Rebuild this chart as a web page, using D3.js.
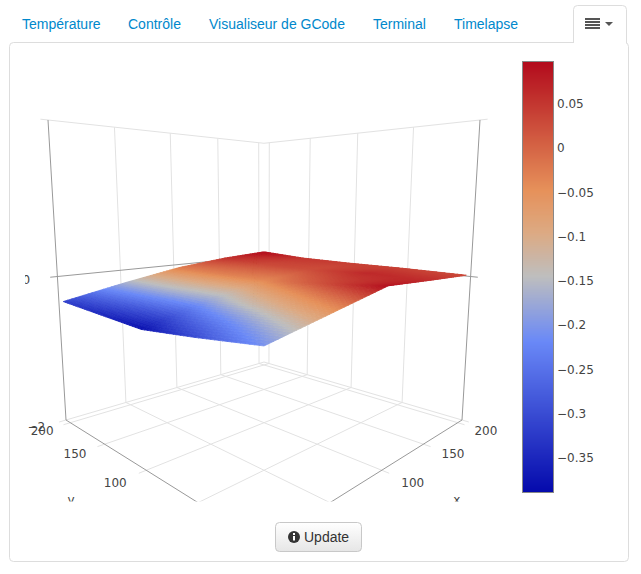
<!DOCTYPE html>
<html>
<head>
<meta charset="utf-8">
<script src="https://cdnjs.cloudflare.com/ajax/libs/d3/7.8.5/d3.min.js"></script>
<style>
  html, body { margin: 0; padding: 0; background: #fff; }
  svg { display: block; }
  .tab { font: 14px "Liberation Sans", Arial, sans-serif; fill: #0088cc; }
  .tick { font: 12px "DejaVu Sans", sans-serif; fill: #444; }
</style>
</head>
<body>
<svg id="chart" width="641" height="574"></svg>
<script>
// Bed mesh
const xs = [0, 50, 100, 150, 200];
const ys = [0, 50, 100, 150, 200];
const zRows = [
    [-0.205, -0.055, 0.095, 0.06, 0.03],
    [-0.30, -0.12, 0.02, 0.065, 0.04],
    [-0.38, -0.18, -0.04, 0.025, 0.04],
    [-0.35, -0.17, -0.03, 0.03, 0.05],
    [-0.32, -0.165, -0.03, 0.05, 0.095]
];

const xTicks = [50, 100, 150, 200];
const yTicks = [50, 100, 150, 200];
const zTicks = [-2, 0, 2];
const xLabels = [100, 150, 200];
const yLabels = [100, 150, 200];
const zLabels = [-2, 0];
const barTicks = [0.05, 0, -0.05, -0.1, -0.15, -0.2, -0.25, -0.3, -0.35];
const tabNames = ["Température", "Contrôle", "Visualiseur de GCode", "Terminal", "Timelapse"];
const tabLefts = [22, 128, 209, 373, 454];

const colorStops = [0, 0.35, 0.5, 0.6, 0.7, 1];
const colorValues = ["rgb(5,10,172)", "rgb(106,137,247)", "rgb(190,190,190)", "rgb(220,170,132)", "rgb(230,145,90)", "rgb(178,10,28)"];

const zMin = -0.388, zMax = 0.0986;
const gridColor = "#e2e2e2", axisColor = "#999";

const svg = d3.select("#chart");

// Scales into the unit scene box
const xScale = d3.scaleLinear().domain([0, 207]).range([-1, 1]);
const yScale = d3.scaleLinear().domain([0, 207]).range([-1, 1]);
const zScale = d3.scaleLinear().domain([-2, 2]).range([0, 1]);
const colorFrac = d3.scaleLinear().domain([zMin, zMax]).range([0, 1]).clamp(true);
const colorRamp = d3.scaleLinear().domain(colorStops).range(colorValues).interpolate(d3.interpolateRgb);
const color = v => colorRamp(colorFrac(v));

// Perspective of the scene, X,Y in -1..1 and Z in 0..1
function project(X, Y, Z) {
    const p = (X - Y) / 2, s = (X + Y) / 2;
    const w = 1 + 0.3626 * s - 0.0833 * Z;
    return [264 + 198 * p / w, (420 + 73.3 * s - 310 * Z) / w];
}
const line3 = d3.line();
function seg(a, b) {
    return line3([project(...a), project(...b)]);
}

// Tab bar and pane
svg.append("rect").attr("x", 9.5).attr("y", 42.5).attr("width", 619).attr("height", 519)
    .attr("rx", 4).attr("fill", "#fff").attr("stroke", "#ddd");
svg.append("path").attr("d", "M573.5 43V9.5a4 4 0 0 1 4-4h45a4 4 0 0 1 4 4V43")
    .attr("fill", "#fff").attr("stroke", "#ddd");
svg.append("rect").attr("x", 574).attr("y", 41).attr("width", 52).attr("height", 3).attr("fill", "#fff");
svg.selectAll("text.tab").data(tabNames).join("text")
    .attr("class", "tab").attr("x", (d, i) => tabLefts[i]).attr("y", 29).text(d => d);
svg.append("g").selectAll("rect").data([0, 1, 2, 3]).join("rect")
    .attr("x", 585).attr("y", d => 18 + d * 3).attr("width", 15).attr("height", 2).attr("fill", "#555");
svg.append("path").attr("d", "M605 22h8l-4 4z").attr("fill", "#555");

// Plot area cuts off the front of the scene
svg.append("clipPath").attr("id", "plot").append("rect")
    .attr("x", 25).attr("y", 60).attr("width", 495).attr("height", 441.5);
const scene = svg.append("g").attr("clip-path", "url(#plot)").attr("fill", "none");

const grid = scene.append("g").attr("stroke", gridColor);
xTicks.forEach(t => {
    const X = xScale(t);
    grid.append("path").attr("d", seg([X, 1, 0], [X, 1, 1]));
    grid.append("path").attr("d", seg([X, -1.05, 0], [X, 1, 0]));
});
yTicks.forEach(t => {
    const Y = yScale(t);
    grid.append("path").attr("d", seg([1, Y, 0], [1, Y, 1]));
    grid.append("path").attr("d", seg([-1.05, Y, 0], [1, Y, 0]));
});
zTicks.forEach(t => {
    const z = zScale(t);
    const stroke = t === 0 ? axisColor : gridColor; // zero line is darker
    grid.append("path").attr("stroke", stroke).attr("d", seg([-1.05, 1, z], [1, 1, z]));
    grid.append("path").attr("stroke", stroke).attr("d", seg([1, -1.05, z], [1, 1, z]));
});

const axes = scene.append("g").attr("stroke", axisColor);
axes.append("path").attr("d", seg([-1, -1, 0], [-1, 1, 0]));
axes.append("path").attr("d", seg([-1, -1, 0], [1, -1, 0]));
axes.append("path").attr("d", seg([-1, 1, 0], [-1, 1, 1]));
axes.append("path").attr("d", seg([1, -1, 0], [1, -1, 1]));

// Surface, each mesh cell shaded in small patches
const steps = 16;
const patches = [];
for (let r = 0; r < ys.length - 1; r++) {
    for (let c = 0; c < xs.length - 1; c++) {
        for (let i = 0; i < steps; i++) {
            for (let j = 0; j < steps; j++) {
                const corners = [[i, j], [i + 1, j], [i + 1, j + 1], [i, j + 1]].map(([a, b]) => {
                    const u = a / steps, v = b / steps;
                    const z = (1 - v) * ((1 - u) * zRows[r][c] + u * zRows[r][c + 1])
                        + v * ((1 - u) * zRows[r + 1][c] + u * zRows[r + 1][c + 1]);
                    return {
                        x: xs[c] + u * (xs[c + 1] - xs[c]),
                        y: ys[r] + v * (ys[r + 1] - ys[r]),
                        z: z
                    };
                });
                patches.push(corners);
            }
        }
    }
}
scene.append("g").selectAll("path").data(patches).join("path")
    .attr("d", d => line3(d.map(q => project(xScale(q.x), yScale(q.y), zScale(q.z)))) + "Z")
    .attr("fill", d => color(d3.mean(d, q => q.z)))
    .attr("stroke", d => color(d3.mean(d, q => q.z)))
    .attr("stroke-width", 0.8);

// Tick labels on the scene
function sceneLabel(text, pos, dy) {
    const [px, py] = project(...pos);
    scene.append("text").attr("class", "tick").attr("x", px).attr("y", py + dy)
        .attr("text-anchor", "middle").attr("dominant-baseline", "central").attr("stroke", "none").text(text);
}
const fmt = v => String(v).replace("-", "\u2212");
yLabels.forEach(t => sceneLabel(fmt(t), [-1.2, yScale(t), 0], 0));
xLabels.forEach(t => sceneLabel(fmt(t), [xScale(t), -1.2, 0], 0));
zLabels.forEach(t => sceneLabel(fmt(t), [-1.15, 1.15, zScale(t)], t < 0 ? 7 : 3));
sceneLabel("y", [-1.44, yScale(103.5), 0], 3);
sceneLabel("x", [yScale(103.5), -1.44, 0], 3);

// Colour bar
const barScale = d3.scaleLinear().domain([zMin, zMax]).range([492, 61]);
const barSteps = d3.range(0, 216).map(i => zMin + (zMax - zMin) * i / 215);
svg.append("clipPath").attr("id", "barclip").append("rect")
    .attr("x", 522).attr("y", 61).attr("width", 31).attr("height", 431);
svg.append("g").attr("clip-path", "url(#barclip)").selectAll("rect").data(barSteps).join("rect")
    .attr("x", 522).attr("width", 31)
    .attr("y", d => barScale(d) - 2).attr("height", 3)
    .attr("fill", d => color(d));
svg.append("rect").attr("x", 522.5).attr("y", 61.5).attr("width", 31).attr("height", 431)
    .attr("fill", "none").attr("stroke", "#888");
svg.append("g").selectAll("text").data(barTicks).join("text")
    .attr("class", "tick").attr("x", 557).attr("y", d => barScale(d) + 4)
    .text(d => fmt(d));

// Update button
const grad = svg.append("linearGradient").attr("id", "btn").attr("x1", 0).attr("y1", 0).attr("x2", 0).attr("y2", 1);
grad.append("stop").attr("offset", 0).attr("stop-color", "#fff");
grad.append("stop").attr("offset", 1).attr("stop-color", "#e6e6e6");
svg.append("rect").attr("x", 275.5).attr("y", 522.5).attr("width", 86).attr("height", 29).attr("rx", 4)
    .attr("fill", "url(#btn)").attr("stroke", "#c8c8c8");
svg.append("circle").attr("cx", 294).attr("cy", 537).attr("r", 6).attr("fill", "#333");
svg.append("rect").attr("x", 293).attr("y", 536).attr("width", 2).attr("height", 4.5).attr("fill", "#fff");
svg.append("rect").attr("x", 293).attr("y", 533).attr("width", 2).attr("height", 2).attr("fill", "#fff");
svg.append("text").attr("x", 304).attr("y", 542)
    .attr("font-family", "'Liberation Sans', Arial, sans-serif").attr("font-size", 14).attr("fill", "#333").text("Update");
</script>
</body>
</html>
